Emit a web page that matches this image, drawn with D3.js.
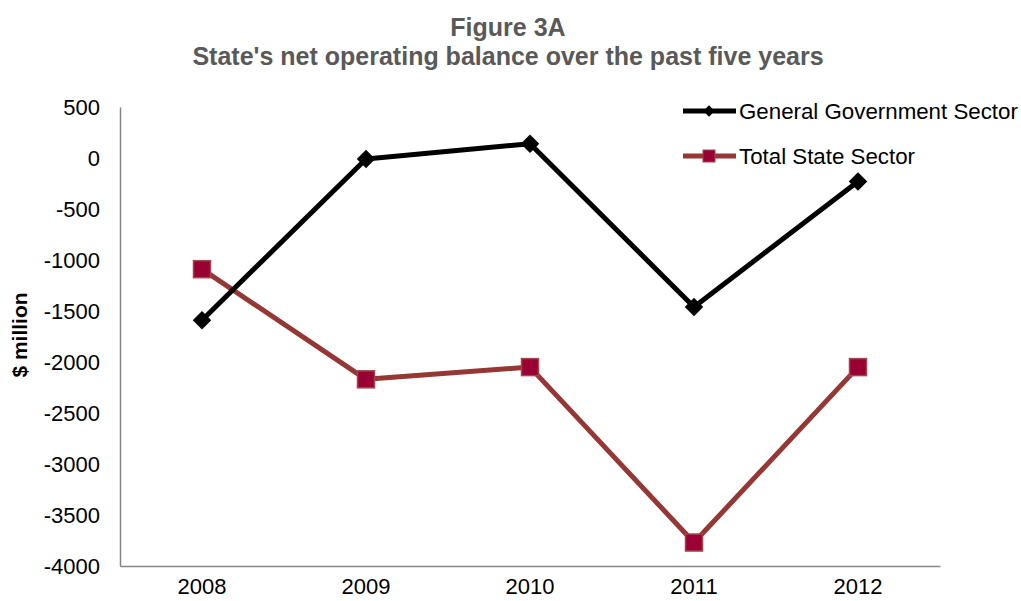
<!DOCTYPE html>
<html>
<head>
<meta charset="utf-8">
<script src="https://cdn.jsdelivr.net/npm/d3@7"></script>
<style>
  html, body { margin: 0; padding: 0; background: #fff; }
  svg { display: block; font-family: Arial, "Liberation Sans", sans-serif; }
</style>
</head>
<body>
<svg id="chart" width="1021" height="601"></svg>
<script>
// Fiscal years shown on the x axis
const years = ["2008", "2009", "2010", "2011", "2012"];
// Net operating balance, $ million
const generalGovernment = [-1590, -10, 140, -1460, -230];
const totalState = [-1090, -2170, -2050, -3770, -2050];
// Y axis tick values
const yTicks = [500, 0, -500, -1000, -1500, -2000, -2500, -3000, -3500, -4000];
const seriesNames = ["General Government Sector", "Total State Sector"];

const svg = d3.select("#chart");

const x = d3.scaleBand().domain(years).range([120, 940]);
const y = d3.scaleLinear().domain([-4000, 500]).range([566, 107]);
const cx = d => x(d) + x.bandwidth() / 2;

// Title
const title = svg.append("g")
  .attr("font-weight", "bold")
  .attr("font-size", 25)
  .attr("fill", "#595959")
  .attr("text-anchor", "middle");
title.append("text").attr("x", 508).attr("y", 36).text("Figure 3A");
title.append("text").attr("x", 508).attr("y", 65).text("State's net operating balance over the past five years");

// Y axis
const yAxis = svg.append("g")
  .attr("transform", "translate(120,0)")
  .call(d3.axisLeft(y).tickValues(yTicks).tickSize(0).tickPadding(20).tickFormat(d3.format("d")));
yAxis.select(".domain").attr("stroke", "#868686").attr("stroke-width", 1.5);
yAxis.selectAll("text")
  .attr("font-size", 22)
  .attr("fill", "#000")
  .attr("font-family", "Arial, 'Liberation Sans', sans-serif")
  .text(d => d < 0 ? "-" + Math.abs(d) : d);

// X axis
const xAxis = svg.append("g")
  .attr("transform", "translate(0,566)")
  .call(d3.axisBottom(x).tickSize(0).tickPadding(12));
xAxis.select(".domain").attr("stroke", "#868686").attr("stroke-width", 1.5);
xAxis.selectAll("text")
  .attr("font-size", 22)
  .attr("fill", "#000")
  .attr("font-family", "Arial, 'Liberation Sans', sans-serif");

// Y axis label
svg.append("text")
  .attr("transform", "translate(27,335) rotate(-90)")
  .attr("text-anchor", "middle")
  .attr("font-weight", "bold")
  .attr("font-size", 21)
  .attr("fill", "#000")
  .text("$ million");

const line = d3.line().x((d, i) => cx(years[i])).y(d => y(d));

// Total State Sector series
svg.append("path")
  .datum(totalState)
  .attr("d", line)
  .attr("fill", "none")
  .attr("stroke", "#953735")
  .attr("stroke-width", 5)
  .attr("stroke-linejoin", "round");
svg.append("g").selectAll("rect")
  .data(totalState)
  .join("rect")
  .attr("x", (d, i) => cx(years[i]) - 8.5)
  .attr("y", d => y(d) - 8.5)
  .attr("width", 17)
  .attr("height", 17)
  .attr("fill", "#990033")
  .attr("stroke", "#a5454a")
  .attr("stroke-width", 1.5);

// General Government Sector series
svg.append("path")
  .datum(generalGovernment)
  .attr("d", line)
  .attr("fill", "none")
  .attr("stroke", "#000")
  .attr("stroke-width", 5)
  .attr("stroke-linejoin", "round");
const diamond = d3.symbol().type(d3.symbolSquare).size(170);
svg.append("g").selectAll("path")
  .data(generalGovernment)
  .join("path")
  .attr("d", diamond)
  .attr("transform", (d, i) => `translate(${cx(years[i])},${y(d)}) rotate(45)`)
  .attr("fill", "#000");

// Legend
const legend = svg.append("g");
const lg1 = legend.append("g").attr("transform", "translate(0,111)");
lg1.append("line").attr("x1", 683).attr("x2", 736).attr("stroke", "#000").attr("stroke-width", 5);
lg1.append("path").attr("d", d3.symbol().type(d3.symbolSquare).size(64))
  .attr("transform", "translate(709,0) rotate(45)").attr("fill", "#000");
lg1.append("text").attr("x", 739).attr("dy", "0.35em").attr("font-size", 22.3).text(seriesNames[0]);

const lg2 = legend.append("g").attr("transform", "translate(0,156)");
lg2.append("line").attr("x1", 683).attr("x2", 736).attr("stroke", "#953735").attr("stroke-width", 5);
lg2.append("rect").attr("x", 703).attr("y", -6).attr("width", 12).attr("height", 12)
  .attr("fill", "#990033").attr("stroke", "#a5454a").attr("stroke-width", 1);
lg2.append("text").attr("x", 739).attr("dy", "0.35em").attr("font-size", 22.3).text(seriesNames[1]);
</script>
</body>
</html>
